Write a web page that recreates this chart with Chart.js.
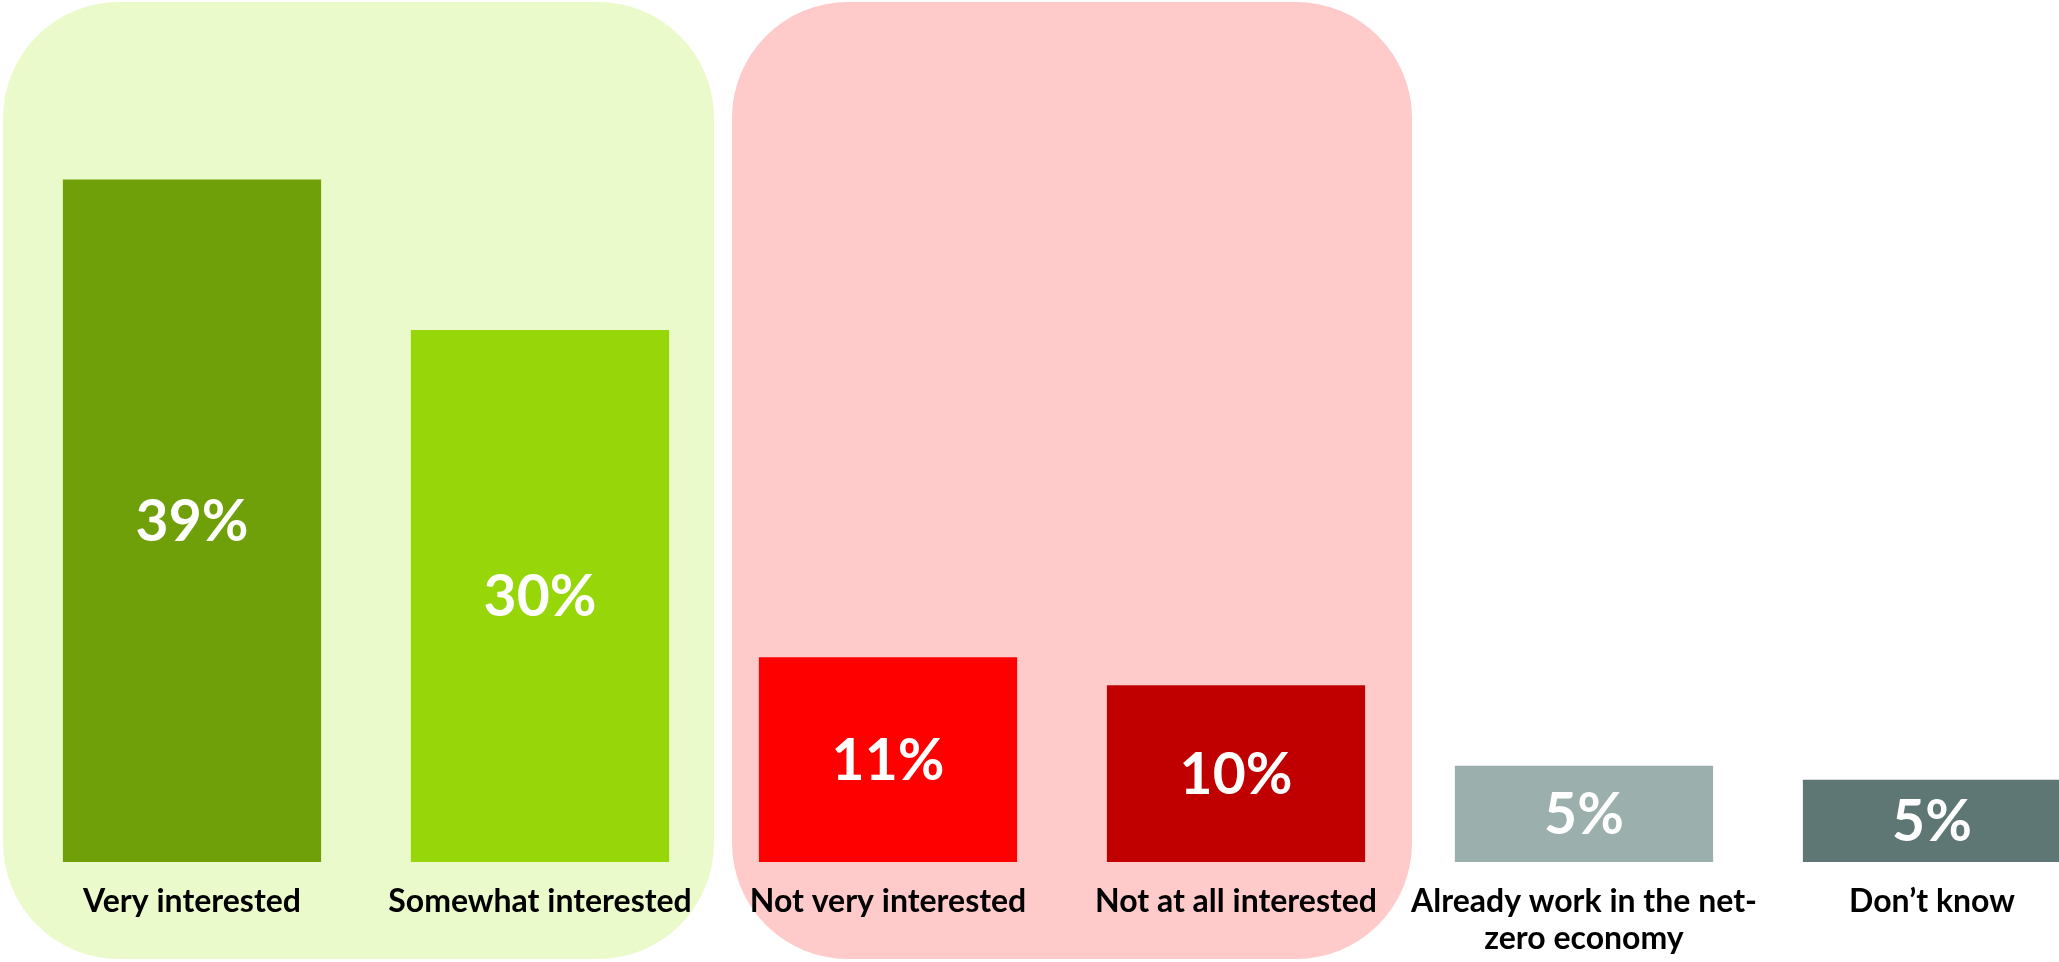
<!DOCTYPE html>
<html>
<head>
<meta charset="utf-8">
<script src="https://cdn.jsdelivr.net/npm/chart.js@4"></script>
<style>
  body { margin: 0; overflow: hidden; background: #fff; }
  #wrap { position: absolute; left: 0; top: 0; width: 2124px; height: 962px; }
</style>
</head>
<body>
<div id="wrap"><canvas id="chartMinat" width="2124" height="962"></canvas></div>
<script>
// Data
const categories = [
  'Very interested',
  'Somewhat interested',
  'Not very interested',
  'Not at all interested',
  ['Already work in the net-', 'zero economy'],
  'Don’t know'
];
const shares = [39, 30.4, 11.7, 10.1, 5.5, 4.7]; // tinggi batang
const shareLabels = ['39%', '30%', '11%', '10%', '5%', '5%'];
const barColors = ['#6fa00a', '#97d70a', '#ff0000', '#c00000', '#9bafad', '#5f7774'];
const groupFirst = [0, 2]; // kelompok "interested" dan "not interested"
const groupLast = [1, 3];

// Kotak latar membulat di belakang kelompok
const groupStyle = [
  { color: '#ebfaca', dxLeft: -15, dxRight: 0 },
  { color: '#fecbca', dxLeft: 18, dxRight: 2 }
];

const latarGrup = {
  id: 'latarGrup',
  beforeDraw(chart) {
    const { ctx, scales: { x } } = chart;
    const step = x.getPixelForValue(1) - x.getPixelForValue(0);
    groupFirst.forEach((first, i) => {
      const st = groupStyle[i];
      const left = x.getPixelForValue(first) - step / 2 + st.dxLeft;
      const right = x.getPixelForValue(groupLast[i]) + step / 2 + st.dxRight;
      ctx.save();
      ctx.fillStyle = st.color;
      ctx.beginPath();
      ctx.roundRect(left, 2, right - left, 957, 116);
      ctx.fill();
      ctx.restore();
    });
  }
};

// Label persen putih di tengah batang
const labelNilai = {
  id: 'labelNilai',
  afterDatasetsDraw(chart) {
    const { ctx } = chart;
    const meta = chart.getDatasetMeta(0);
    ctx.save();
    ctx.fillStyle = '#ffffff';
    ctx.font = 'bold 57px Lato';
    ctx.textAlign = 'center';
    ctx.textBaseline = 'middle';
    meta.data.forEach((bar, i) => {
      const { x, y, base } = bar.getProps(['x', 'y', 'base'], true);
      ctx.fillText(shareLabels[i], x, (y + base) / 2 + 2);
    });
    ctx.restore();
  }
};

const ctx = document.getElementById('chartMinat').getContext('2d');

const myChart = new Chart(ctx, {
  type: 'bar',
  data: {
    labels: categories,
    datasets: [{
      data: shares,
      backgroundColor: barColors,
      borderWidth: 0,
      categoryPercentage: 1,
      barPercentage: 0.742
    }]
  },
  options: {
    responsive: false,
    animation: false,
    layout: { padding: { left: 18, right: 18, top: 162, bottom: 0 } },
    plugins: {
      legend: { display: false },
      tooltip: { enabled: false }
    },
    scales: {
      x: {
        grid: { display: false, drawTicks: false },
        border: { display: false },
        ticks: {
          color: '#000000',
          padding: 21,
          autoSkip: false,
          maxRotation: 0,
          font: { family: 'Lato', weight: 'bold', size: 32, lineHeight: 1.16 }
        },
        afterFit: (scale) => { scale.height = 100; }
      },
      y: {
        display: false,
        min: 0,
        max: 40
      }
    }
  },
  plugins: [latarGrup, labelNilai]
});
</script>
</body>
</html>
